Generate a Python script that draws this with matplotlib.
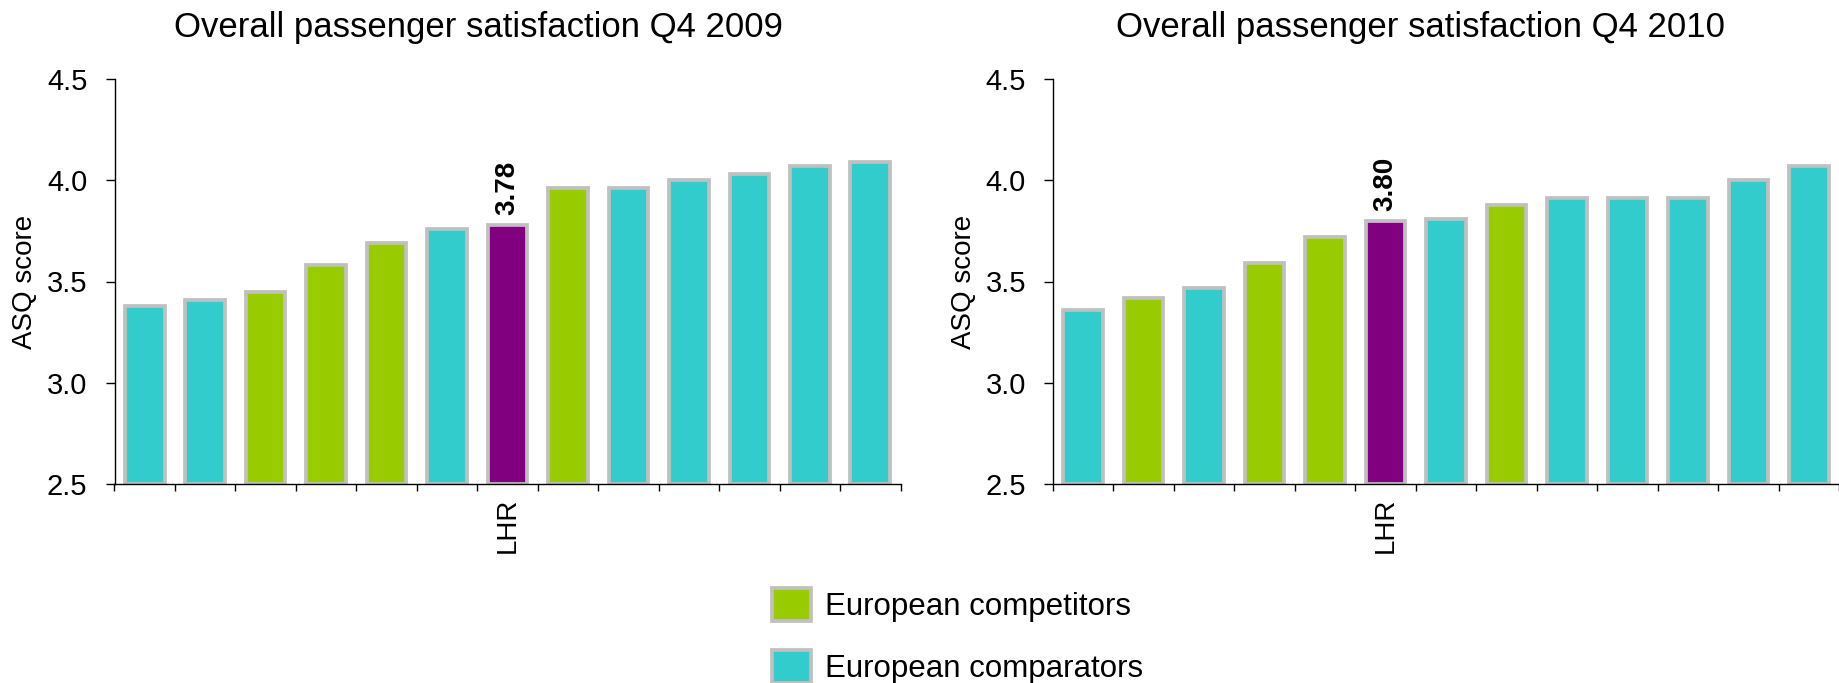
import numpy as np
import matplotlib
matplotlib.use("Agg")
import matplotlib.pyplot as plt
from matplotlib.patches import Patch

plt.rcParams["font.family"] = ["Liberation Sans", "DejaVu Sans"]

# data
titles = ["Overall passenger satisfaction Q4 2009", "Overall passenger satisfaction Q4 2010"]
scores_2009 = [3.38, 3.41, 3.45, 3.58, 3.69, 3.76, 3.78, 3.96, 3.96, 4.00, 4.03, 4.07, 4.09]
groups_2009 = ["comp", "comp", "rival", "rival", "rival", "comp", "LHR",
               "rival", "comp", "comp", "comp", "comp", "comp"]
scores_2010 = [3.36, 3.42, 3.47, 3.59, 3.72, 3.80, 3.81, 3.88, 3.91, 3.91, 3.91, 4.00, 4.07]
groups_2010 = ["comp", "rival", "comp", "rival", "rival", "LHR", "comp",
               "rival", "comp", "comp", "comp", "comp", "comp"]
yticks = [2.5, 3.0, 3.5, 4.0, 4.5]
legend_labels = ["European competitors", "European comparators"]

colors = {"rival": "#99CC00", "comp": "#33CCCC", "LHR": "#800080"}
edge = "#C0C0C0"

W, H = 1839, 683
fig = plt.figure(figsize=(W / 100, H / 100), dpi=100)

panels = [
    (scores_2009, groups_2009, titles[0], 114.5, 478),
    (scores_2010, groups_2010, titles[1], 1053, 1420),
]

for scores, groups, title, left_px, title_x in panels:
    ax = fig.add_axes([left_px / W, 1 - 484 / H, 786 / W, 405 / H])
    scores = np.array(scores)
    x = np.arange(len(scores))
    ax.bar(x, scores - 2.5, bottom=2.5, width=0.655,
           color=[colors[g] for g in groups], edgecolor=edge, linewidth=2.7)

    ax.set_xlim(-0.5, len(scores) - 0.5)
    ax.set_ylim(2.5, 4.5)
    ax.set_yticks(yticks)
    ax.set_yticklabels([f"{t:.1f}" for t in yticks])
    ax.set_xticks(np.arange(len(scores) + 1) - 0.5)
    ax.set_xticklabels([])

    i_lhr = groups.index("LHR")
    ax.set_xticks([i_lhr], minor=True)
    ax.set_xticklabels(["LHR"], minor=True, rotation=90)
    ax.tick_params(axis="x", which="minor", length=0, pad=10, labelsize=20)
    ax.tick_params(axis="x", which="major", length=5, width=1, direction="out")
    ax.tick_params(axis="y", length=6.5, width=1, pad=13, labelsize=21)

    for s in ["top", "right"]:
        ax.spines[s].set_visible(False)
    for s in ["left", "bottom"]:
        ax.spines[s].set_linewidth(1)

    ax.annotate(f"{scores[i_lhr]:.2f}", (i_lhr, scores[i_lhr]), xytext=(0, 7),
                textcoords="offset points", ha="center", va="bottom",
                rotation=90, fontsize=20, fontweight="bold")

    ax.set_ylabel("ASQ score", fontsize=20)
    ax.yaxis.set_label_coords(-0.097, 0.5)

    fig.text(title_x / W, 1 - 36.5 / H, title, ha="center", va="baseline", fontsize=25)

handles = [Patch(facecolor=colors["rival"], edgecolor=edge, linewidth=2.7),
           Patch(facecolor=colors["comp"], edgecolor=edge, linewidth=2.7)]
fig.legend(handles, legend_labels, loc="upper left",
           bbox_to_anchor=(772 / W, 1 - 588 / H), frameon=False, borderpad=0,
           borderaxespad=0, handlelength=1.25, handleheight=1.25,
           handletextpad=0.45, labelspacing=0.9, fontsize=22.5)

fig.savefig("out.png", dpi=100)
plt.close(fig)
